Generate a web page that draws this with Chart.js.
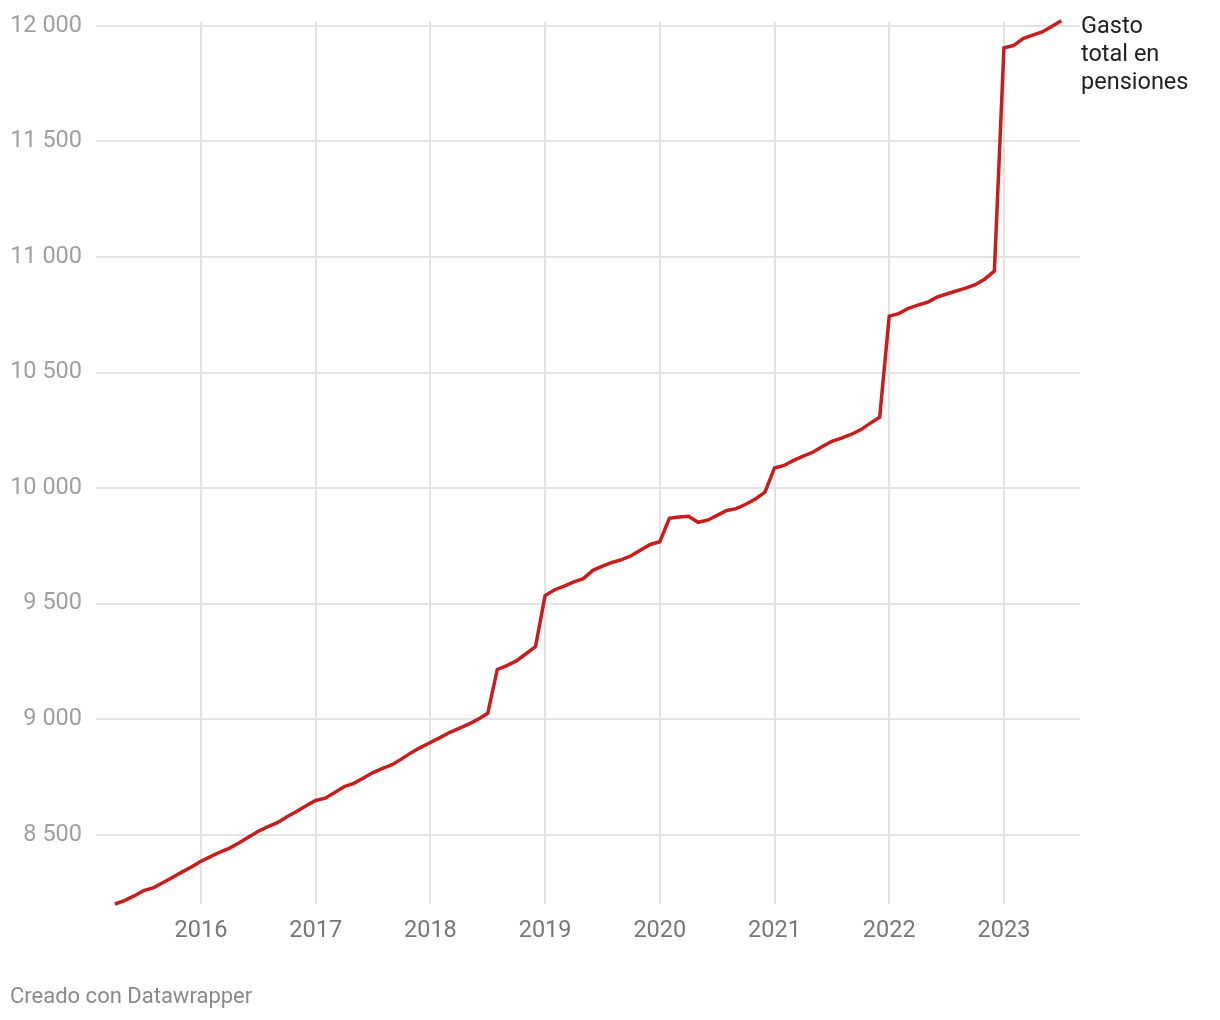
<!DOCTYPE html>
<html>
<head>
<meta charset="utf-8">
<script src="https://cdn.jsdelivr.net/npm/chart.js@4"></script>
<style>
  body { margin: 0; background: #fff; font-family: Roboto, sans-serif; }
  #wrap { position: relative; width: 1220px; height: 1020px; }
  #footer { position: absolute; left: 10px; top: 983px; font-size: 22px; color: #8a8a8a; }
</style>
</head>
<body>
<div id="wrap">
  <canvas id="lineChart" width="1220" height="1020"></canvas>
  <div id="footer">Creado con Datawrapper</div>
</div>
<script>
// Monthly spending, Apr 2015 - Jul 2023
const startYear = 2015;
const startMonth = 4;
const gasto = [
  // 2015 (Apr-Dec)
  8200, 8215, 8235, 8258, 8270, 8292, 8315, 8338, 8360,
  // 2016
  8385, 8405, 8425, 8442, 8465, 8490, 8515, 8535, 8552, 8578, 8600, 8625,
  // 2017
  8648, 8658, 8683, 8708, 8722, 8745, 8769, 8787, 8803, 8828, 8855, 8878,
  // 2018
  8899, 8920, 8942, 8960, 8978, 9000, 9025, 9215, 9232, 9252, 9283, 9314,
  // 2019
  9535, 9560, 9576, 9594, 9608, 9644, 9662, 9678, 9690, 9707, 9732, 9756,
  // 2020
  9768, 9869, 9875, 9878, 9852, 9861, 9882, 9903, 9911, 9930, 9953, 9982,
  // 2021
  10087, 10098, 10120, 10138, 10155, 10180, 10202, 10216, 10232, 10252, 10280, 10307,
  // 2022
  10744, 10755, 10778, 10792, 10804, 10826, 10840, 10853, 10865, 10880, 10905, 10939,
  // 2023 (Jan-Jul)
  11905, 11915, 11945, 11960, 11974, 11998, 12022
];
const yearTicks = [2016, 2017, 2018, 2019, 2020, 2021, 2022, 2023];
const valueTicks = [8500, 9000, 9500, 10000, 10500, 11000, 11500, 12000];
const seriesLabel = ['Gasto', 'total en', 'pensiones'];

const points = gasto.map((v, i) => ({
  x: startYear + (startMonth - 1 + i) / 12,
  y: v
}));

const fmt = v => String(v).replace(/\B(?=(\d{3})+(?!\d))/g, ' ');

const endLabel = {
  id: 'endLabel',
  afterDatasetsDraw(chart) {
    const ctx = chart.ctx;
    const area = chart.chartArea;
    const yScale = chart.scales.y;
    ctx.save();
    ctx.font = '23.5px Roboto';
    ctx.fillStyle = '#222';
    ctx.textBaseline = 'middle';
    const y0 = yScale.getPixelForValue(12000);
    seriesLabel.forEach((t, i) => ctx.fillText(t, area.right + 1, y0 + 1 + i * 28));
    ctx.restore();
  }
};

const ctx = document.getElementById('lineChart').getContext('2d');
new Chart(ctx, {
  type: 'line',
  data: {
    datasets: [{
      data: points,
      borderColor: '#c91d1d',
      borderWidth: 3.5,
      pointRadius: 0,
      tension: 0,
      fill: false,
      clip: false
    }]
  },
  options: {
    responsive: false,
    animation: false,
    layout: { padding: { top: 22, right: 140, bottom: 66, left: 10 } },
    plugins: { legend: { display: false }, tooltip: { enabled: false } },
    scales: {
      x: {
        type: 'linear',
        min: 2015.085,
        max: 2023.663,
        afterBuildTicks: s => { s.ticks = yearTicks.map(v => ({ value: v })); },
        afterFit: s => { s.height = 50; s.paddingLeft = 0; s.paddingRight = 0; },
        border: { display: false },
        grid: { color: '#e3e3e3', lineWidth: 2, drawTicks: false },
        ticks: {
          padding: 13,
          color: '#777',
          font: { family: 'Roboto', size: 23.5 },
          callback: v => String(v)
        }
      },
      y: {
        min: 8200,
        max: 12017,
        afterBuildTicks: s => { s.ticks = valueTicks.map(v => ({ value: v })); },
        afterFit: s => { s.width = 86; s.paddingTop = 0; s.paddingBottom = 0; },
        border: { display: false },
        grid: { color: '#e3e3e3', lineWidth: 2, drawTicks: false },
        ticks: {
          padding: 14,
          color: '#a0a0a0',
          font: { family: 'Roboto', size: 23.5 },
          callback: v => fmt(v)
        }
      }
    }
  },
  plugins: [endLabel]
});
</script>
</body>
</html>
